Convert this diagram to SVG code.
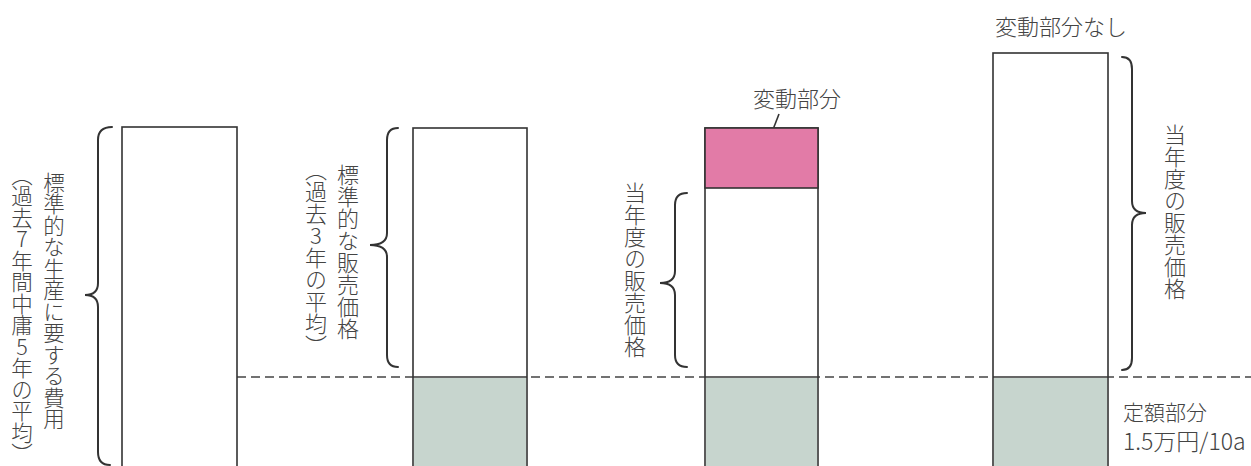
<svg xmlns="http://www.w3.org/2000/svg" width="1251" height="466" viewBox="0 0 1251 466">
<style>
.bar{fill:#fff;stroke:#333;stroke-width:1.6}
.fix{fill:#c7d5ce}
.var{fill:#e27ba7;stroke:#333;stroke-width:1.6}
.sep{stroke:#333;stroke-width:1.6}
.brace{fill:none;stroke:#333;stroke-width:2;stroke-linecap:round}
.dash{stroke:#444;stroke-width:1.4;stroke-dasharray:9 5}
.lead{stroke:#333;stroke-width:1.6}
.t{font-family:"Noto Sans CJK JP","Noto Sans CJK SC",sans-serif;font-size:22px;fill:#444;font-weight:300}
.v{writing-mode:vertical-rl;text-orientation:upright}
</style>
<rect width="1251" height="466" fill="#fff"/>
<g id="connectors">
<line class="dash" x1="237" y1="377" x2="1251" y2="377"/>
<path class="brace" d="M112 127 Q98 127 98 140 L98 283 Q98 295 85 295 Q98 295 98 307 L98 452 Q98 465 110 465"/>
<path class="brace" d="M398 128 Q387 128 387 140 L387 233 Q387 245 370 245 Q387 245 387 257 L387 355 Q387 367 398 367"/>
<path class="brace" d="M687 193 Q675 193 675 205 L675 271 Q675 283 660 283 Q675 283 675 295 L675 355 Q675 367 687 367"/>
<path class="brace" d="M1122 57 Q1132 57 1132 69 L1132 201 Q1132 213 1146 213 Q1132 213 1132 225 L1132 358 Q1132 370 1122 370"/>
<line class="lead" x1="779" y1="114" x2="762" y2="158"/>
</g>
<g id="bar-cost">
<rect class="bar" x="122" y="127" width="115" height="345"/>
</g>
<g id="bar-standard">
<rect class="bar" x="413" y="128" width="114" height="344"/>
<rect class="fix" x="414" y="378" width="112" height="88"/>
<line class="sep" x1="413" y1="377" x2="527" y2="377"/>
</g>
<g id="bar-variable">
<rect class="bar" x="705" y="128" width="113" height="344"/>
<rect class="var" x="705" y="128" width="113" height="60"/>
<rect class="fix" x="706" y="378" width="111" height="88"/>
<line class="sep" x1="705" y1="377" x2="818" y2="377"/>
</g>
<g id="bar-novariable">
<rect class="bar" x="993" y="53" width="115" height="419"/>
<rect class="fix" x="994" y="378" width="113" height="88"/>
<line class="sep" x1="993" y1="377" x2="1108" y2="377"/>
</g>
<g id="labels">
<text class="t v" x="54" y="172" style="font-size:21.5px">標準的な生産に要する費用</text>
<text class="t v" x="22" y="164" style="font-size:21.5px">（過去7年間中庸5年の平均）</text>
<text class="t v" x="348" y="164">標準的な販売価格</text>
<text class="t v" x="316" y="159">（過去3年の平均）</text>
<text class="t v" x="635" y="182">当年度の販売価格</text>
<text class="t v" x="1175" y="124">当年度の販売価格</text>
<text class="t" x="753" y="107">変動部分</text>
<text class="t" x="995" y="35">変動部分なし</text>
<text class="t" x="1123" y="420" style="font-size:21px">定額部分</text>
<text class="t" x="1123" y="450" style="font-size:23px">1.5万円/10a</text>
</g>
</svg>
